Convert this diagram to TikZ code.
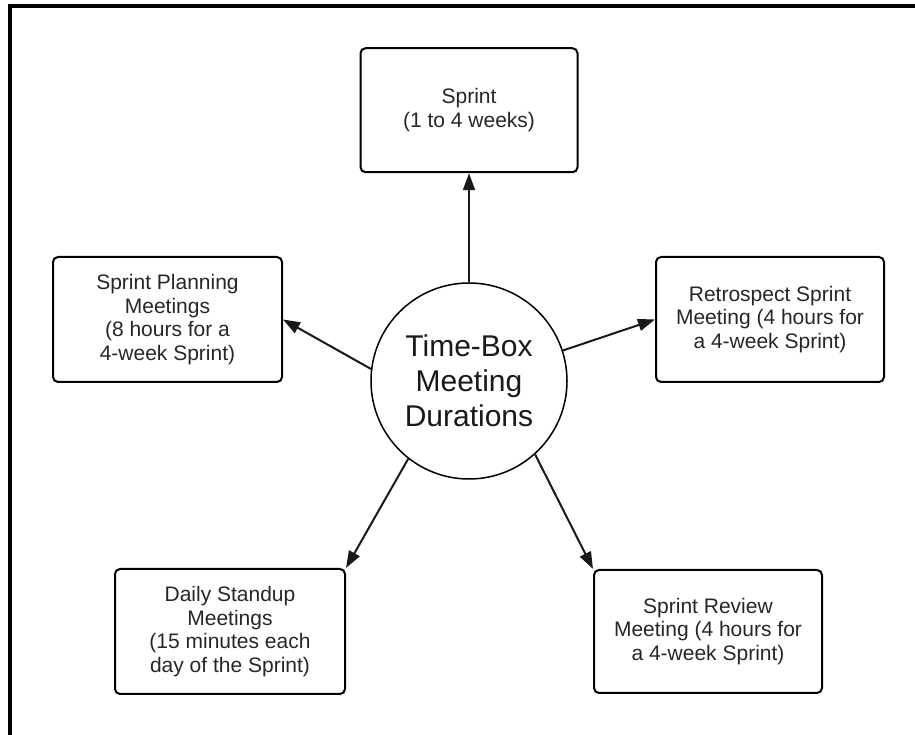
\documentclass[tikz,border=0pt]{standalone}
\usepackage{fontspec}
\setmainfont{Liberation Sans}
\usetikzlibrary{arrows.meta, positioning}

\begin{document}
\begin{tikzpicture}[
    x=1pt, y=1pt,
    hub/.style={circle, draw=black, line width=1.5pt, minimum size=196pt, inner sep=0pt, align=center, text=black!90, font=\fontsize{30}{35}\selectfont},
    meeting/.style={rectangle, rounded corners=5pt, draw=black, line width=2pt, minimum width=229pt, minimum height=125pt, align=center, text=black!85, font=\fontsize{21}{23.5}\selectfont},
    arrow/.style={-{Triangle[length=17pt, width=12pt]}, line width=2pt, black!90},
    frame/.style={line width=4pt}
]
\useasboundingbox (0,0) rectangle (915,735);

% Frame (cut off at right and bottom)
\draw[frame] (10,0) -- (10,728.7) -- (915,728.7);

% Time-Box hub
\node[hub] (hub) at (469,354) {Time-Box\\Meeting\\Durations};

% Sprint
\node[meeting, minimum width=217pt, minimum height=124pt, above=109pt of hub] (sprint) {Sprint\\(1 to 4 weeks)};

% Planning and Retrospect
\node[meeting] (planning) at (167.5,415.5) {Sprint Planning\\Meetings\\(8 hours for a\\4-week Sprint)};
\node[meeting, minimum width=228pt] (retro) at (770,415.5) {Retrospect Sprint\\Meeting (4 hours for\\a 4-week Sprint)};

% Standup and Review
\node[meeting, minimum width=230pt] (standup) at (230,103.5) {Daily Standup\\Meetings\\(15 minutes each\\day of the Sprint)};
\node[meeting, minimum width=228pt, minimum height=123pt] (review) at (708,103.5) {Sprint Review\\Meeting (4 hours for\\a 4-week Sprint)};

% Arrows
\draw[arrow] (hub.north) -- (sprint.south);
\draw[arrow] (hub.173) -- (planning.east);
\draw[arrow] (hub.18) -- (retro.west);
\draw[arrow] (hub.-128) -- (standup.north east);
\draw[arrow] (hub.-48) -- (review.north west);

\end{tikzpicture}
\end{document}
